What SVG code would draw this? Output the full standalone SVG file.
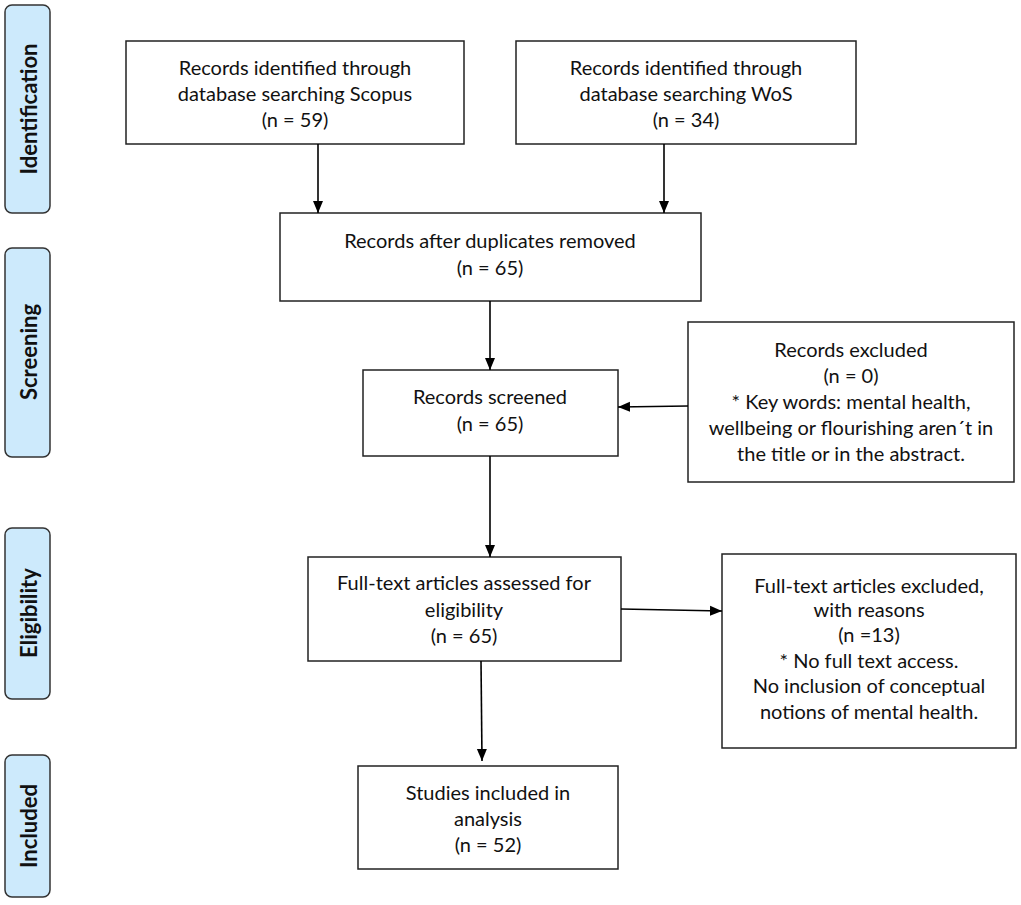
<svg xmlns="http://www.w3.org/2000/svg" width="1021" height="905" viewBox="0 0 1021 905">
<defs>
<marker id="arr" markerUnits="userSpaceOnUse" markerWidth="12" markerHeight="12" viewBox="0 0 12 12" refX="12" refY="6" orient="auto">
<path d="M0,1 L12,6 L0,11 Z" fill="#000"/>
</marker>
<style>
.bar{fill:#cdeafc;stroke:#333;stroke-width:1.5}
.box{fill:#fff;stroke:#222;stroke-width:1.5}
.t{font-family:Lato,"Liberation Sans",sans-serif;font-size:20px;fill:#111;text-anchor:middle}
.s{font-family:Lato,"Liberation Sans",sans-serif;font-size:22px;font-weight:bold;fill:#111;text-anchor:middle}
.c{stroke:#000;stroke-width:1.6;fill:none;marker-end:url(#arr)}
</style>
</defs>
<rect width="1021" height="905" fill="#fff"/>
<g id="phase-identification"><rect class="bar" x="5" y="5" width="45" height="208" rx="7"/><text class="s" transform="translate(37,109) rotate(-90)">Identification</text></g>
<g id="phase-screening"><rect class="bar" x="5" y="248" width="45" height="209" rx="7"/><text class="s" transform="translate(37,352) rotate(-90)">Screening</text></g>
<g id="phase-eligibility"><rect class="bar" x="5" y="528" width="45" height="171" rx="7"/><text class="s" transform="translate(37,613) rotate(-90)">Eligibility</text></g>
<g id="phase-included"><rect class="bar" x="5" y="755" width="45" height="142" rx="7"/><text class="s" transform="translate(37,826) rotate(-90)">Included</text></g>

<g id="scopus"><rect class="box" x="126" y="41" width="338" height="103"/>
<text class="t" x="295" y="75">Records identified through</text>
<text class="t" x="295" y="101">database searching Scopus</text>
<text class="t" x="295" y="127">(n = 59)</text></g>

<g id="wos"><rect class="box" x="516" y="41" width="340" height="103"/>
<text class="t" x="686" y="75">Records identified through</text>
<text class="t" x="686" y="101">database searching WoS</text>
<text class="t" x="686" y="127">(n = 34)</text></g>

<g id="duplicates"><rect class="box" x="280" y="213" width="421" height="88"/>
<text class="t" x="490" y="248">Records after duplicates removed</text>
<text class="t" x="490" y="275">(n = 65)</text></g>

<g id="screened"><rect class="box" x="363" y="370" width="255" height="86"/>
<text class="t" x="490" y="404">Records screened</text>
<text class="t" x="490" y="431">(n = 65)</text></g>

<g id="excluded"><rect class="box" x="688" y="322" width="326" height="160"/>
<text class="t" x="851" y="357">Records excluded</text>
<text class="t" x="851" y="383">(n = 0)</text>
<text class="t" x="851" y="409">* Key words: mental health,</text>
<text class="t" x="851" y="435">wellbeing or flourishing aren´t in</text>
<text class="t" x="851" y="461">the title or in the abstract.</text></g>

<g id="fulltext"><rect class="box" x="308" y="557" width="313" height="104"/>
<text class="t" x="464" y="590">Full-text articles assessed for</text>
<text class="t" x="464" y="617">eligibility</text>
<text class="t" x="464" y="643">(n = 65)</text></g>

<g id="fulltext-excluded"><rect class="box" x="722" y="554" width="294" height="194"/>
<text class="t" x="869" y="593">Full-text articles excluded,</text>
<text class="t" x="869" y="617">with reasons</text>
<text class="t" x="869" y="642">(n =13)</text>
<text class="t" x="869" y="668">* No full text access.</text>
<text class="t" x="869" y="693">No inclusion of conceptual</text>
<text class="t" x="869" y="719">notions of mental health.</text></g>

<g id="included"><rect class="box" x="358" y="766" width="260" height="103"/>
<text class="t" x="488" y="800">Studies included in</text>
<text class="t" x="488" y="826">analysis</text>
<text class="t" x="488" y="852">(n = 52)</text></g>

<g id="connectors">
<line class="c" x1="318" y1="144" x2="318" y2="213"/>
<line class="c" x1="664" y1="144" x2="664" y2="213"/>
<line class="c" x1="490" y1="301" x2="490" y2="370"/>
<line class="c" x1="688" y1="406" x2="618" y2="407"/>
<line class="c" x1="490" y1="456" x2="490" y2="557"/>
<line class="c" x1="621" y1="609" x2="722" y2="611"/>
<line class="c" x1="481" y1="661" x2="482" y2="761"/>
</g>
</svg>
